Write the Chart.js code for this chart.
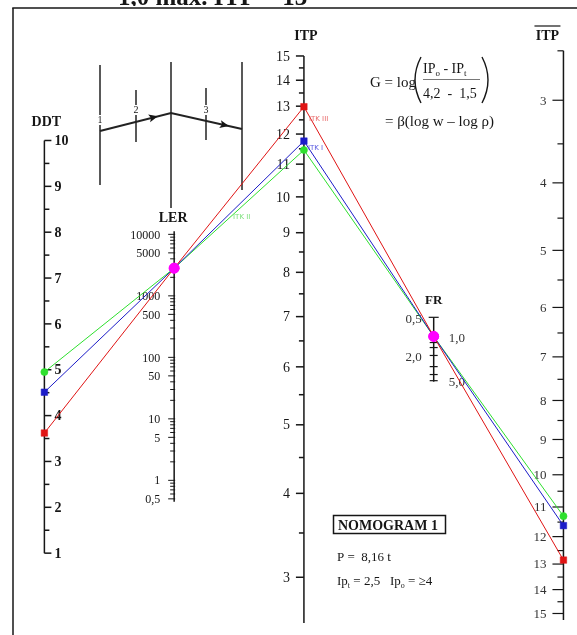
<!DOCTYPE html>
<html><head><meta charset="utf-8">
<script src="https://cdn.jsdelivr.net/npm/chart.js@4.4.0/dist/chart.umd.min.js"></script>
<style>html,body{margin:0;padding:0;background:#fff;overflow:hidden}canvas{display:block}</style>
</head><body>
<canvas id="c" width="577" height="635"></canvas>
<script>
// ---------------- data ----------------
const axisNames = ['DDT', 'LER', 'ITP', 'FR', 'ITP'];
const seriesNames = ['ITK III', 'ITK I', 'ITK II'];
const redValues   = [3.62, 2820, 12.98, 1.0, 12.85];
const blueValues  = [4.51, 2820, 11.76, 1.0, 11.62];
const greenValues = [4.95, 2820, 11.46, 1.0, 11.30];
const ddtTicks = [1, 2, 3, 4, 5, 6, 7, 8, 9, 10];
const lerTicks = [10000, 5000, 1000, 500, 100, 50, 10, 5, 1, 0.5];
const lerTickLabels = ['10000', '5000', '1000', '500', '100', '50', '10', '5', '1', '0,5'];
const itpTicks = [3, 4, 5, 6, 7, 8, 9, 10, 11, 12, 13, 14, 15];
const frTicks = [0.5, 1, 2, 5];
const frTickLabels = ['0,5', '1,0', '2,0', '5,0'];
const itpRightTicks = [3, 4, 5, 6, 7, 8, 9, 10, 11, 12, 13, 14, 15];

// ---------------- nomogram scale calibration (value -> row of the sheet) ----------------
const L = Math.log10;
const axisMap = [
  v => 557 - (v - 1) * 46.6,                     // DDT, linear
  v => 483 - L(v) * 62.5,                         // LER, logarithmic
  v => 51.7 + (L(16) - L(v + 1)) * 880,           // ITP, log(ITP+1)
  v => 336.7 + L(v) * 64.4,                       // FR, logarithmic
  v => 96.7 + (L(v + 1) - L(4)) * 866.4           // ITP (right), log(ITP+1), inverted
];
const toPoints = vals => vals.map((v, i) => ({x: i, y: axisMap[i](v)}));

const INK = '#161616';
const SERIF = '"Liberation Serif", "DejaVu Serif", serif';
const MAGENTA = '#ff00ff';

function sub(ctx, parts, x, y, size) {
  let cx = x;
  parts.forEach(([t, s]) => {
    ctx.font = (s ? Math.round(size * 0.62) : size) + 'px ' + SERIF;
    ctx.fillText(t, cx, s ? y + size * 0.22 : y);
    cx += ctx.measureText(t).width;
  });
}

const deco = {
  id: 'deco',
  beforeDraw(chart) {
    const ctx = chart.ctx;
    ctx.save(); ctx.fillStyle = '#fff'; ctx.fillRect(0, 0, chart.width, chart.height); ctx.restore();
  },
  beforeDatasetsDraw(chart) {
    const ctx = chart.ctx, xs = chart.scales.x, ys = chart.scales.y;
    const X = i => xs.getPixelForValue(i);
    const Y = r => ys.getPixelForValue(r);
    ctx.save();
    ctx.strokeStyle = INK; ctx.fillStyle = INK; ctx.lineCap = 'butt';

    const line = (x1, y1, x2, y2, w) => { ctx.lineWidth = w || 1.5; ctx.beginPath(); ctx.moveTo(x1, y1); ctx.lineTo(x2, y2); ctx.stroke(); };

    // title (cut by the top edge)
    ctx.font = 'bold 25px ' + SERIF; ctx.textAlign = 'left'; ctx.textBaseline = 'alphabetic';
    ctx.fillText('1,0 max. ITP = 13', 118, 5);

    // frame
    ctx.fillStyle = '#fff'; ctx.fillRect(13, 6, 564, 3); ctx.fillStyle = INK;
    line(13, 8, 13, 635, 1.5);
    line(12.25, 8, 577, 8, 1.5);

    // ---- DDT axis ----
    let x0 = X(0);
    line(x0, Y(axisMap[0](10)), x0, Y(axisMap[0](1)));
    for (let v = 1; v <= 10; v += 0.5) {
      const y = Y(axisMap[0](v));
      line(x0, y, x0 + (Number.isInteger(v) ? 7 : 5), y);
    }
    ctx.font = 'bold 14px ' + SERIF; ctx.textBaseline = 'middle'; ctx.textAlign = 'left';
    ddtTicks.forEach(v => ctx.fillText(String(v), x0 + 10, Y(axisMap[0](v)) + 1));
    ctx.textAlign = 'center'; ctx.font = 'bold 14px ' + SERIF;
    ctx.fillText(axisNames[0], x0 + 2, 122);

    // ---- LER axis ----
    x0 = X(1);
    line(x0, Y(axisMap[1](10000)) - 3, x0, Y(axisMap[1](0.5)) + 3);
    for (let k = -1; k <= 4; k++) {
      for (let d = 1; d <= 9; d++) {
        const v = d * Math.pow(10, k);
        if (v < 0.5 || v > 10000) continue;
        const y = Y(axisMap[1](v));
        const major = lerTicks.includes(v);
        line(x0 - (major ? 6 : 4), y, x0 + 1, y, 1);
      }
    }
    ctx.font = '12px ' + SERIF; ctx.textAlign = 'right'; ctx.textBaseline = 'middle';
    lerTicks.forEach((v, i) => ctx.fillText(lerTickLabels[i], x0 - 14, Y(axisMap[1](v)) + 1));
    ctx.textAlign = 'center'; ctx.font = 'bold 14px ' + SERIF;
    ctx.fillText(axisNames[1], x0 - 1, 218);

    // ---- ITP axis (centre) ----
    x0 = X(2);
    line(x0, Y(axisMap[2](15)), x0, 623);
    for (let v = 3; v <= 15; v += 0.5) {
      const y = Y(axisMap[2](v));
      line(x0 - (Number.isInteger(v) ? 8 : 5), y, x0, y);
    }
    ctx.font = '14px ' + SERIF; ctx.textAlign = 'right'; ctx.textBaseline = 'middle';
    itpTicks.forEach(v => ctx.fillText(String(v), x0 - 14, Y(axisMap[2](v)) + 1));
    ctx.textAlign = 'center'; ctx.font = 'bold 14px ' + SERIF;
    ctx.fillText(axisNames[2], x0 + 2, 36);

    // ---- FR axis ----
    x0 = X(3);
    line(x0, Y(axisMap[3](0.5)), x0, Y(axisMap[3](5)) + 1);
    [0.5, 1.25, 1.5, 2, 3, 4, 5].forEach(v => {
      const y = Y(axisMap[3](v));
      const w = v === 0.5 ? 5 : 4;
      line(x0 - w, y, x0 + w, y, 1.2);
    });
    ctx.font = '13px ' + SERIF; ctx.textBaseline = 'middle'; ctx.fillStyle = '#333';
    frTicks.forEach((v, i) => {
      const y = Y(axisMap[3](v));
      if (i % 2 === 0) { ctx.textAlign = 'right'; ctx.fillText(frTickLabels[i], x0 - 12, y + 2); }
      else { ctx.textAlign = 'left'; ctx.fillText(frTickLabels[i], x0 + 15, y + 2); }
    });
    ctx.fillStyle = INK; ctx.textAlign = 'center'; ctx.font = 'bold 13px ' + SERIF;
    ctx.fillText(axisNames[3], x0, 301);

    // ---- ITP axis (right, inverted) ----
    x0 = X(4);
    line(x0, Y(axisMap[4](2.5)), x0, 620);
    for (let v = 2.5; v <= 15; v += 0.5) {
      const y = Y(axisMap[4](v));
      line(x0 - (Number.isInteger(v) ? 11 : 6), y, x0, y, 1.2);
    }
    ctx.font = '13px ' + SERIF; ctx.textAlign = 'right'; ctx.textBaseline = 'middle'; ctx.fillStyle = '#333';
    itpRightTicks.forEach(v => ctx.fillText(String(v), x0 - 17, Y(axisMap[4](v)) + 1));
    ctx.fillStyle = INK; ctx.textAlign = 'center'; ctx.font = 'bold 14px ' + SERIF;
    ctx.fillText(axisNames[4], x0 - 16, 36);
    line(x0 - 29, 26, x0 - 3, 26, 1.2);

    // ---- inset diagram ----
    ctx.strokeStyle = '#222';
    line(100, 65, 100, 185, 1.5);
    line(136, 90, 136, 142, 1.5);
    line(171, 62, 171, 208, 1.5);
    line(206, 88, 206, 140, 1.5);
    line(242, 62, 242, 190, 1.5);
    ctx.lineWidth = 2; ctx.beginPath(); ctx.moveTo(100, 131); ctx.lineTo(171, 113); ctx.lineTo(242, 129); ctx.stroke();
    const arrow = (x, y, ang) => {
      ctx.save(); ctx.translate(x, y); ctx.rotate(ang);
      ctx.beginPath(); ctx.moveTo(5, 0); ctx.lineTo(-4, -4); ctx.lineTo(-2, 0); ctx.lineTo(-4, 4); ctx.closePath(); ctx.fill();
      ctx.restore();
    };
    arrow(153, 117.5, Math.atan2(113 - 131, 171 - 100));
    arrow(224, 125, Math.atan2(129 - 113, 242 - 171));
    ctx.font = '10px ' + SERIF; ctx.textAlign = 'center'; ctx.textBaseline = 'middle';
    [['1', 100, 120], ['2', 136, 110], ['3', 206, 110]].forEach(([t, x, y]) => {
      ctx.fillStyle = '#fff'; ctx.fillRect(x - 3, y - 5, 6, 10);
      ctx.fillStyle = INK; ctx.fillText(t, x, y);
    });

    // ---- formula ----
    ctx.textAlign = 'left'; ctx.textBaseline = 'alphabetic'; ctx.fillStyle = INK;
    ctx.font = '15px ' + SERIF;
    ctx.fillText('G = log', 370, 87);
    sub(ctx, [['IP', 0], ['o', 1], [' - IP', 0], ['t', 1]], 423, 73, 14);
    ctx.font = '14px ' + SERIF;
    ctx.fillText('4,2  -  1,5', 423, 98);
    ctx.strokeStyle = '#555';
    line(423, 79.5, 480, 79.5, 0.8);
    ctx.strokeStyle = INK; ctx.lineWidth = 1.4;
    ctx.beginPath(); ctx.moveTo(421, 57); ctx.quadraticCurveTo(409, 80, 421, 103); ctx.stroke();
    ctx.beginPath(); ctx.moveTo(482, 57); ctx.quadraticCurveTo(494, 80, 482, 103); ctx.stroke();
    ctx.font = '15px ' + SERIF;
    ctx.fillText('= \u03B2(log w \u2013 log \u03C1)', 385, 126);

    // ---- NOMOGRAM box ----
    ctx.lineWidth = 1.5; ctx.strokeRect(333.5, 515.5, 112, 18);
    ctx.font = 'bold 14px ' + SERIF; ctx.fillText('NOMOGRAM 1', 338, 530);
    ctx.font = '13px ' + SERIF; ctx.fillText('P =  8,16 t', 337, 561);
    sub(ctx, [['Ip', 0], ['t', 1], [' = 2,5   Ip', 0], ['o', 1], [' = \u22654', 0]], 337, 585, 13);

    ctx.restore();
  },
  afterDatasetsDraw(chart) {
    const ctx = chart.ctx;
    ctx.save();
    ctx.font = '7px "DejaVu Sans", sans-serif'; ctx.textAlign = 'left'; ctx.textBaseline = 'middle';
    const r = chart.getDatasetMeta(0).data, b = chart.getDatasetMeta(1).data, g = chart.getDatasetMeta(2).data;
    ctx.fillStyle = '#e86a6a'; ctx.fillText(seriesNames[0], r[2].x + 5, r[2].y + 12);
    ctx.fillStyle = '#5a5ae0'; ctx.fillText(seriesNames[1], b[2].x + 4, b[2].y + 7);
    ctx.fillStyle = '#7ae07a'; ctx.fillText(seriesNames[2], (g[1].x + g[2].x) / 2 - 6, (g[1].y + g[2].y) / 2 + 8);
    ctx.restore();
  }
};

const shared = i => i === 1 || i === 3;
function ds(label, vals, color, style) {
  return {
    label, data: toPoints(vals), borderColor: color, borderWidth: 1, tension: 0, fill: false,
    pointStyle: c => shared(c.dataIndex) ? 'circle' : style,
    pointRadius: c => shared(c.dataIndex) ? 5 : (style === 'rect' ? 4.6 : 3.6),
    pointBackgroundColor: c => shared(c.dataIndex) ? MAGENTA : color,
    pointBorderColor: c => shared(c.dataIndex) ? MAGENTA : color,
    pointBorderWidth: 0.5, clip: false
  };
}

new Chart(document.getElementById('c'), {
  type: 'line',
  data: {
    datasets: [
      ds(seriesNames[0], redValues, '#e01414', 'rect'),
      ds(seriesNames[1], blueValues, '#1c1cc8', 'rect'),
      ds(seriesNames[2], greenValues, '#2ee02e', 'circle')
    ]
  },
  options: {
    responsive: false, animation: false, devicePixelRatio: 1,
    layout: {padding: 0},
    plugins: {legend: {display: false}, tooltip: {enabled: false}, title: {display: false}},
    scales: {
      x: {type: 'linear', display: false, min: -40 / 132.1, max: 4 + (577 - 568.4) / 132.1},
      y: {type: 'linear', display: false, min: 0, max: 635, reverse: true}
    }
  },
  plugins: [deco]
});
</script>
</body></html>
